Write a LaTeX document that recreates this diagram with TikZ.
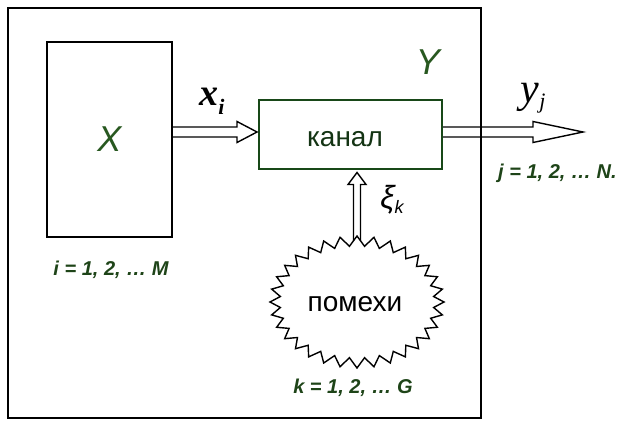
\documentclass[tikz,border=0pt]{standalone}
\usepackage{fontspec}
\setmainfont{Liberation Sans}
\newfontfamily\seriffont{Liberation Serif}
\usetikzlibrary{shapes.geometric,calc}
\definecolor{dgreen}{RGB}{40,88,32}
\definecolor{lgreen}{RGB}{30,68,24}
\definecolor{kgreen}{RGB}{20,52,20}
\definecolor{bgreen}{RGB}{24,72,24}
\begin{document}
\begin{tikzpicture}[x=1pt,y=-1pt,
  blackbox/.style={draw=black,line width=2.4pt,inner sep=0pt},
  greenbox/.style={draw=bgreen,line width=2pt,inner sep=0pt},
  hollow/.style={draw=black,line width=1.4pt,line join=miter},
  zz/.style={draw=black,line width=1.4pt,line join=miter},
  biglabel/.style={text=dgreen,font=\fontsize{36}{40}\selectfont\itshape},
  rangelabel/.style={text=lgreen,font=\fontsize{20}{22}\selectfont\bfseries\itshape,inner sep=0pt},
  plainlabel/.style={text=black,font=\fontsize{28}{30}\selectfont,inner sep=0pt}]
\useasboundingbox (0,0) rectangle (624,421);
% boxes
\node[blackbox,minimum width=473pt,minimum height=410pt] (outer) at (244.5,213) {};
\node[blackbox,minimum width=125pt,minimum height=195pt,biglabel] (X) at (109.5,139.5) {X};
\node[greenbox,minimum width=183pt,minimum height=69pt] (kanal) at (350.5,134.5) {};
\node[plainlabel,text=kgreen] (kanaltxt) at (345,139) {канал};
\node[ellipse,minimum width=164pt,minimum height=122pt,plainlabel] (noise) at (357,302) {};
\node[plainlabel] (noisetxt) at (355,304) {помехи};
\begin{scope}[shift={(noise.center)}]
\draw[zz] plot[samples at={0,1,...,63},variable=\t]
  ({(87-10*mod(\t,2))*cos(\t*5.625)},{(66-10*mod(\t,2))*sin(\t*5.625)}) -- cycle;
\end{scope}
% labels
\node[biglabel,inner sep=0pt] (Ylab) at (428,62) {Y};
\node[inner sep=0pt] (xlab) at (212,101) {\seriffont\bfseries\itshape\fontsize{38}{40}\selectfont x\raisebox{-9pt}{\fontsize{22}{24}\selectfont i}};
\node[inner sep=0pt] (ylab) at (533,98) {\seriffont\itshape\fontsize{42}{44}\selectfont y\raisebox{-6pt}{\fontsize{22}{24}\selectfont j}};
\node[inner sep=0pt] (xilab) at (392,200) {\itshape\fontsize{32}{34}\selectfont ξ\raisebox{-5pt}{\fontsize{18}{19}\selectfont k}};
\node[rangelabel,anchor=west] (jlab) at (498,173) {j = 1, 2, … N.};
\node[rangelabel] (ilab) at (111,270) {i = 1, 2, … M};
\node[rangelabel] (klab) at (353,388) {k = 1, 2, … G};
% arrows
\coordinate (ain) at ($(kanal.west)+(-1,-2.5)$);
\coordinate (aout) at (583,132);
\coordinate (xitip) at ($(noise.north|-kanal.south)+(0,2.5)$);
\draw[hollow] ($(X.east|-ain)+(0,-5)$) -- ($(ain)+(-20,-5)$) -- ($(ain)+(-20,-10.5)$) -- (ain)
  -- ($(ain)+(-20,10.5)$) -- ($(ain)+(-20,5)$) -- ($(X.east|-ain)+(0,5)$);
\draw[hollow] ($(kanal.east|-aout)+(0,-5)$) -- ($(aout)+(-50,-5)$) -- ($(aout)+(-50,-10.5)$) -- (aout)
  -- ($(aout)+(-50,10.5)$) -- ($(aout)+(-50,5)$) -- ($(kanal.east|-aout)+(0,5)$);
\draw[hollow] ($(noise.north)+(-3.5,0)$) -- ($(xitip)+(-3.5,12)$) -- ($(xitip)+(-9,12)$) -- (xitip)
  -- ($(xitip)+(9,12)$) -- ($(xitip)+(3.5,12)$) -- ($(noise.north)+(3.5,0)$);
\end{tikzpicture}
\end{document}
